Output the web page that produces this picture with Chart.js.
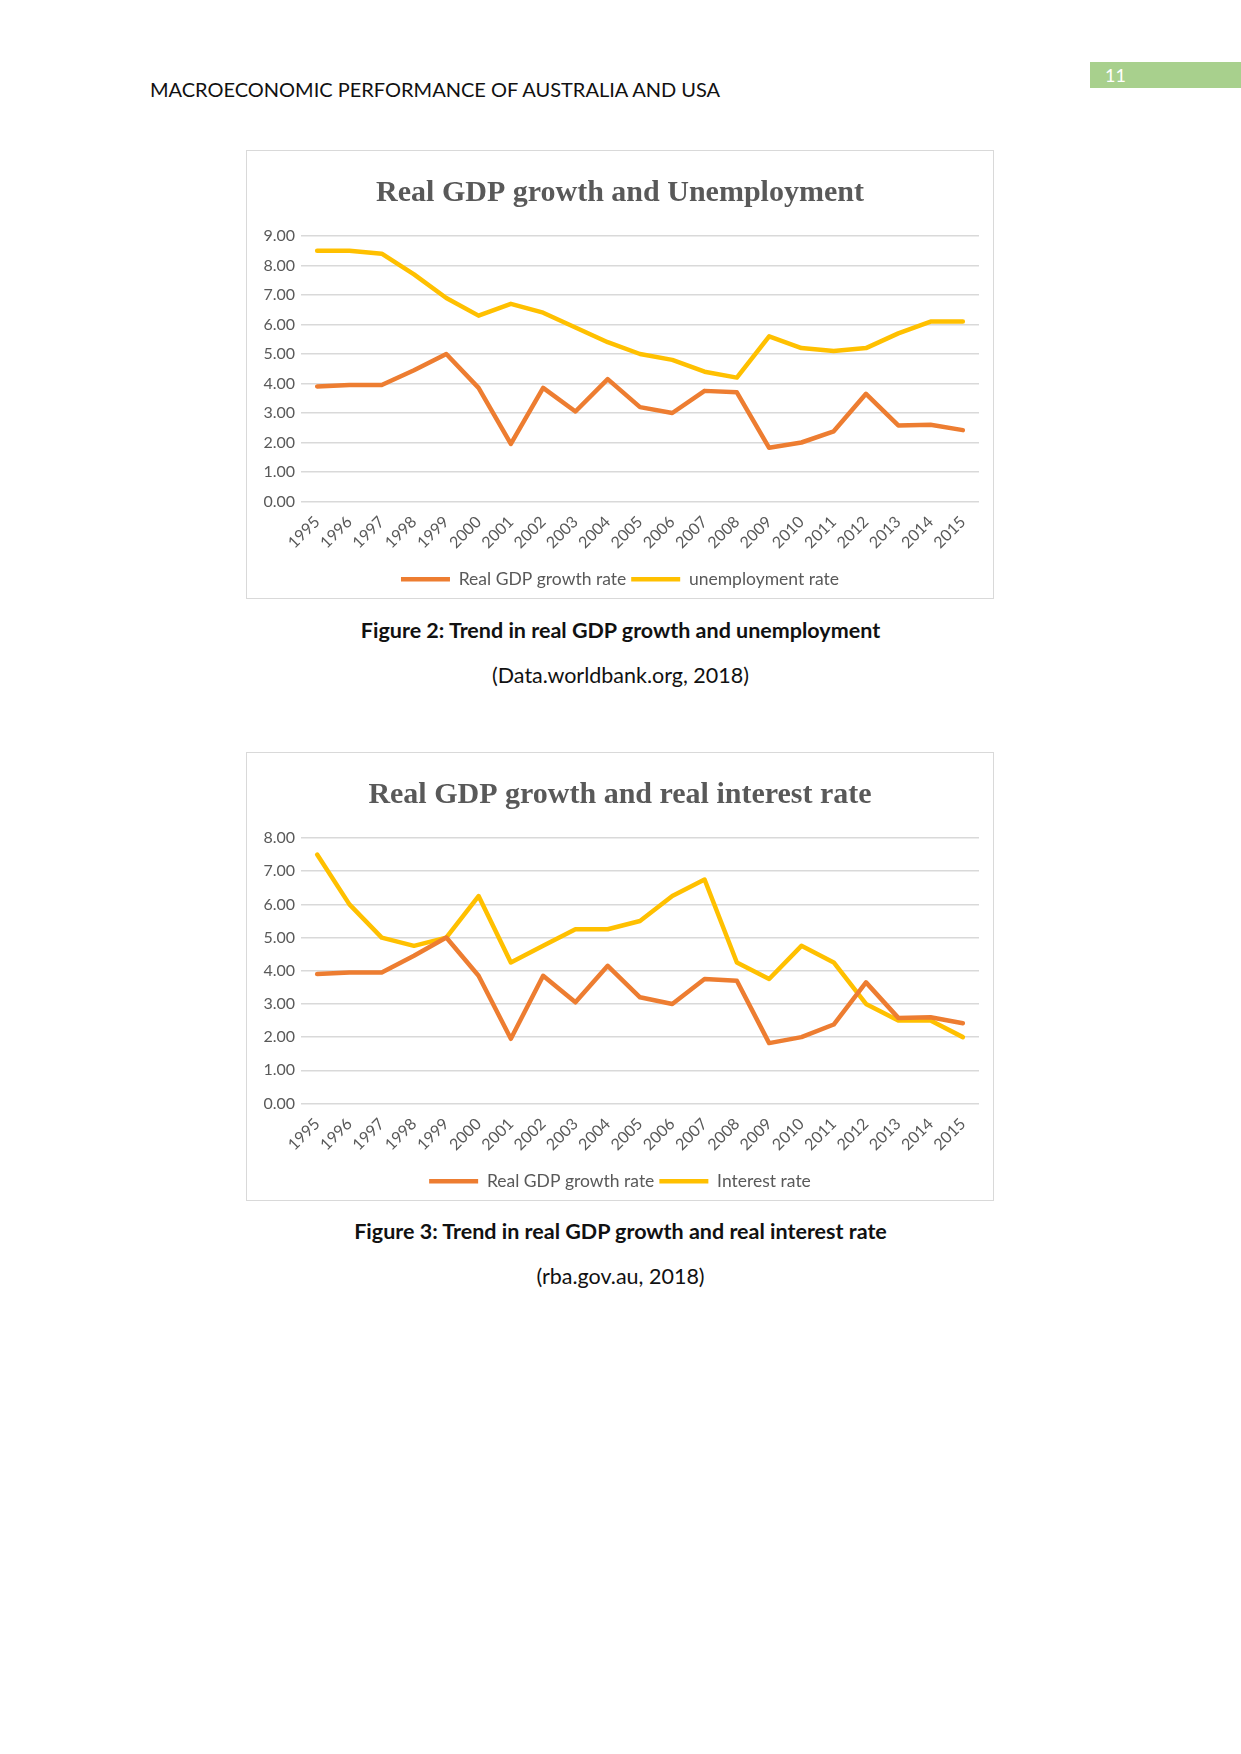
<!DOCTYPE html>
<html lang="en">
<head>
<meta charset="UTF-8">
<title>Real GDP growth, unemployment and interest rate</title>
<script src="https://cdn.jsdelivr.net/npm/chart.js"></script>
<style>
    body { margin: 0; background: #fff; font-family: Lato, "Open Sans", sans-serif; }
    #page { position: relative; width: 1241px; height: 1754px; overflow: hidden; }
    .header { position: absolute; left: 150px; top: 77px; font-size: 20px; color: #111; }
    .pagenum { position: absolute; left: 1090px; top: 62px; width: 151px; height: 26px; background: #a8d08d;
               color: #fff; font-size: 18px; line-height: 26px; }
    .pagenum span { margin-left: 15px; }
    .box { position: absolute; left: 246px; width: 746px; height: 447px; border: 1px solid #d9d9d9; }
    .caption { position: absolute; left: 0; width: 1241px; text-align: center; font-size: 21.5px; color: #111; }
    .bold { font-weight: bold; }
</style>
</head>
<body>
<div id="page">
    <div class="header">MACROECONOMIC PERFORMANCE OF AUSTRALIA AND USA</div>
    <div class="pagenum"><span>11</span></div>

    <div class="box" style="top:150px;"><canvas id="chart1" width="746" height="447"></canvas></div>
    <div class="caption bold" style="top:617px;">Figure 2: Trend in real GDP growth and unemployment</div>
    <div class="caption" style="top:662px;">(Data.worldbank.org, 2018)</div>

    <div class="box" style="top:752px;"><canvas id="chart2" width="746" height="447"></canvas></div>
    <div class="caption bold" style="top:1218px;">Figure 3: Trend in real GDP growth and real interest rate</div>
    <div class="caption" style="top:1263px;">(rba.gov.au, 2018)</div>
</div>

<script>
    const years = ['1995', '1996', '1997', '1998', '1999', '2000', '2001', '2002', '2003', '2004', '2005',
                   '2006', '2007', '2008', '2009', '2010', '2011', '2012', '2013', '2014', '2015'];
    const gdpGrowth = [3.90, 3.95, 3.95, 4.45, 5.00, 3.85, 1.95, 3.85, 3.05, 4.15, 3.20,
                       3.00, 3.75, 3.70, 1.82, 2.00, 2.38, 3.65, 2.58, 2.60, 2.42];
    const unemployment = [8.50, 8.50, 8.40, 7.70, 6.90, 6.30, 6.70, 6.40, 5.90, 5.40, 5.00,
                          4.80, 4.40, 4.20, 5.60, 5.20, 5.10, 5.20, 5.70, 6.10, 6.10];
    const interestRate = [7.50, 6.00, 5.00, 4.75, 5.00, 6.25, 4.25, 4.75, 5.25, 5.25, 5.50,
                          6.25, 6.75, 4.25, 3.75, 4.75, 4.25, 3.00, 2.50, 2.50, 2.00];

    const ORANGE = '#ed7d31';
    const YELLOW = '#ffc000';
    const TEXT = '#595959';

    const makeChart = (id, title, second, secondLabel, yMax) => {
        const ctx = document.getElementById(id).getContext('2d');
        return new Chart(ctx, {
            type: 'line',
            data: {
                labels: years,
                datasets: [
                    { label: 'Real GDP growth rate', data: gdpGrowth, borderColor: ORANGE, backgroundColor: ORANGE, borderWidth: 4.5 },
                    { label: secondLabel, data: second, borderColor: YELLOW, backgroundColor: YELLOW, borderWidth: 4.5 }
                ]
            },
            options: {
                responsive: false,
                animation: false,
                devicePixelRatio: 1,
                elements: {
                    line: { tension: 0, borderJoinStyle: 'round', borderCapStyle: 'round' },
                    point: { radius: 0 }
                },
                // equal side padding keeps the title centred in the box
                layout: { padding: { left: 14, right: 14, top: 0, bottom: 0 } },
                plugins: {
                    title: {
                        display: true,
                        text: title,
                        color: TEXT,
                        font: { family: '"Liberation Serif", "DejaVu Serif", serif', size: 30, weight: 'bold' },
                        padding: { top: 24, bottom: 25 }
                    },
                    legend: {
                        position: 'bottom',
                        labels: {
                            color: TEXT,
                            font: { family: 'Lato, sans-serif', size: 17.5 },
                            usePointStyle: true,
                            pointStyle: 'line',
                            pointStyleWidth: 49,
                            padding: 5
                        }
                    },
                    tooltip: { enabled: false }
                },
                scales: {
                    x: {
                        offset: true,
                        grid: { display: false },
                        border: { display: false },
                        ticks: {
                            color: TEXT,
                            font: { family: 'Lato, sans-serif', size: 16 },
                            minRotation: 45,
                            maxRotation: 45,
                            autoSkip: false
                        },
                        afterFit: (scale) => { scale.height = 64; }
                    },
                    y: {
                        min: 0,
                        max: yMax,
                        grid: { color: '#d9d9d9', lineWidth: 1.5, drawTicks: false },
                        border: { display: false },
                        ticks: {
                            stepSize: 1,
                            color: TEXT,
                            padding: 6,
                            font: { family: 'Lato, sans-serif', size: 16 },
                            callback: (v) => Number(v).toFixed(2)
                        },
                        afterFit: (scale) => { scale.width = 40; }
                    }
                }
            }
        });
    };

    makeChart('chart1', 'Real GDP growth and Unemployment', unemployment, 'unemployment rate', 9);
    makeChart('chart2', 'Real GDP growth and real interest rate', interestRate, 'Interest rate', 8);
</script>
</body>
</html>
